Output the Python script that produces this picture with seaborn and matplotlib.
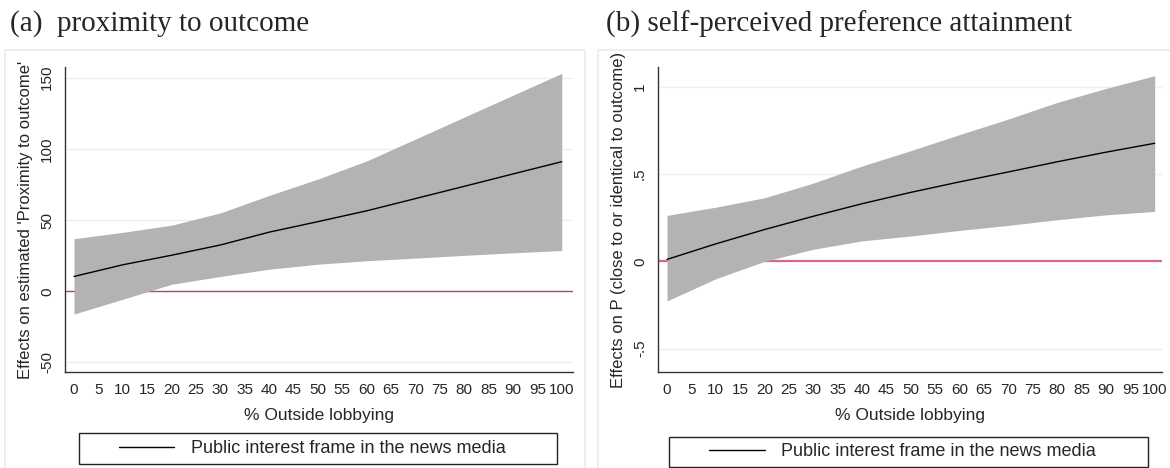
import numpy as np
import pandas as pd
import seaborn as sns
import matplotlib.pyplot as plt
from matplotlib.patches import Rectangle

# data (marginal effects with 95% CI)
pct_outside = [0, 10, 20, 30, 40, 50, 60, 70, 80, 90, 100]

prox_effect = [10.4, 18.6, 25.3, 32.5, 41.5, 48.9, 56.5, 65.1, 73.7, 82.4, 91.0]
prox_upper = [36.9, 41.4, 46.4, 55.0, 67.3, 78.8, 91.5, 106.9, 122.3, 137.7, 153.0]
prox_lower = [-16.0, -5.6, 4.9, 10.4, 15.5, 19.0, 21.4, 23.3, 25.2, 27.0, 28.6]

pref_effect = [0.011, 0.10, 0.182, 0.258, 0.33, 0.395, 0.455, 0.512, 0.57, 0.625, 0.676]
pref_upper = [0.263, 0.31, 0.364, 0.448, 0.546, 0.634, 0.726, 0.815, 0.91, 0.99, 1.063]
pref_lower = [-0.227, -0.10, 0.0, 0.069, 0.117, 0.145, 0.177, 0.206, 0.238, 0.266, 0.286]

x_ticks = list(range(0, 101, 5))
prox_yticks = [-50, 0, 50, 100, 150]
pref_yticks = [-0.5, 0, 0.5, 1]
pref_ylabels = ['-.5', '0', '.5', '1']

df_a = pd.DataFrame({'x': pct_outside, 'y': prox_effect, 'lo': prox_lower, 'hi': prox_upper})
df_b = pd.DataFrame({'x': pct_outside, 'y': pref_effect, 'lo': pref_lower, 'hi': pref_upper})

sns.set_style('white')
plt.rcParams['font.family'] = ['Liberation Sans Narrow', 'Liberation Sans', 'DejaVu Sans']

fig = plt.figure(figsize=(11.7, 4.68), dpi=100)
W, H = 1170, 468

def fx(px):
    return px / W

def fy(py):
    return 1 - py / H

# light outer frames of the two panels
for x0, x1 in [(5, 585), (598, 1175)]:
    fig.patches.append(Rectangle((fx(x0), fy(470)), fx(x1 - x0), (470 - 50) / H,
                                 transform=fig.transFigure, fill=False,
                                 edgecolor='#e4eef0', lw=1.2))

serif = ['Liberation Serif', 'DejaVu Serif']
fig.text(fx(10), fy(24), '(a)  proximity to outcome', family=serif, fontsize=21, va='center')
fig.text(fx(606), fy(24), '(b) self-perceived preference attainment', family=serif, fontsize=21, va='center')

sans = ['Liberation Sans', 'DejaVu Sans']


def panel(ax, df, ylim, yticks, ylabels, ylabel, zero_color, zero_lw, box):
    ax.fill_between(df['x'], df['lo'], df['hi'], color='#b3b3b3', lw=0, zorder=2)
    sns.lineplot(data=df, x='x', y='y', ax=ax, color='black', lw=1.0, zorder=3,
                 label='Public interest frame in the news media')
    ax.axhline(0, color=zero_color, lw=zero_lw, zorder=1)
    for t in yticks:
        if t != 0:
            ax.axhline(t, color='#e8f1f2', lw=1.0, zorder=0)
    ax.set_xlim(-1.85, 102.3)
    ax.set_ylim(*ylim)
    ax.set_xticks(x_ticks)
    ax.set_xticklabels([str(t) for t in x_ticks], fontsize=11)
    ax.set_yticks(yticks)
    ax.set_yticklabels(ylabels, fontsize=11, rotation=90, va='center')
    ax.tick_params(axis='both', direction='out', length=5, width=1, color='#333333', pad=3)
    ax.set_xlabel('% Outside lobbying', fontsize=12.5, labelpad=8, family=sans)
    ax.set_ylabel(ylabel, fontsize=12, labelpad=5, family=sans)
    for s in ['top', 'right']:
        ax.spines[s].set_visible(False)
    for s in ['left', 'bottom']:
        ax.spines[s].set_color('#333333')
        ax.spines[s].set_linewidth(1.0)
    # legend box drawn separately, legend content centred inside it
    x0, y0, x1, y1 = box
    fig.patches.append(Rectangle((fx(x0), fy(y1)), fx(x1 - x0), (y1 - y0) / H,
                                 transform=fig.transFigure, fill=False,
                                 edgecolor='#222222', lw=1.0))
    ax.legend(loc='center', bbox_to_anchor=(fx((x0 + x1) / 2 - 6), fy((y0 + y1) / 2)),
              bbox_transform=fig.transFigure, frameon=False, handlelength=3.1,
              handletextpad=0.9, prop={'family': sans, 'size': 13})


ax_a = fig.add_axes([fx(65), fy(372), fx(573 - 65), (372 - 67) / H])
panel(ax_a, df_a, (-56.7, 157.5), prox_yticks, [str(t) for t in prox_yticks],
      "Effects on estimated 'Proximity to outcome'", '#c73c5e', 1.0,
      (79, 433, 557, 464))

ax_b = fig.add_axes([fx(658), fy(372), fx(1162 - 658), (372 - 67) / H])
panel(ax_b, df_b, (-0.634, 1.113), pref_yticks, pref_ylabels,
      'Effects on P (close to or identical to outcome)', '#d9668a', 1.6,
      (669, 437, 1148, 467))
ax_b.set_xlim(-1.85, 101.5)

fig.savefig('out.png', dpi=100)
